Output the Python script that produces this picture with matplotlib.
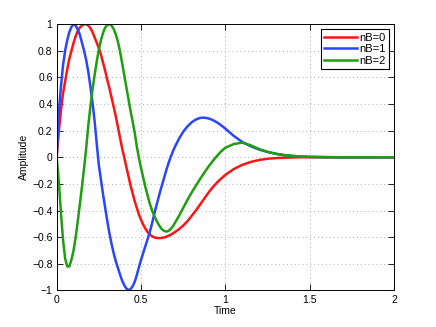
import matplotlib
matplotlib.use('Agg')
import matplotlib.pyplot as plt

# time axis
time = [0, 0.0125, 0.025, 0.0375, 0.05, 0.0625, 0.075, 0.0875, 0.1, 0.1125,
        0.125, 0.1375, 0.15, 0.1625, 0.175, 0.1875, 0.2, 0.2125, 0.225, 0.2375,
        0.25, 0.2625, 0.275, 0.2875, 0.3, 0.3125, 0.325, 0.3375, 0.35, 0.3625,
        0.375, 0.3875, 0.4, 0.4125, 0.425, 0.4375, 0.45, 0.4625, 0.475, 0.4875,
        0.5,
        0.5125, 0.525, 0.5375, 0.55, 0.5625, 0.575, 0.5875, 0.6, 0.6125, 0.625,
        0.6375, 0.65, 0.6625, 0.675, 0.6875, 0.7,
        0.725, 0.75, 0.775, 0.8, 0.825, 0.85, 0.875, 0.9, 0.925, 0.95, 0.975, 1.0,
        1.05, 1.1, 1.15, 1.2, 1.25, 1.3, 1.35, 1.4, 1.45, 1.5,
        1.6, 1.7, 1.8, 1.9, 2.0]

nb0 = [0, 0.19, 0.35, 0.48, 0.57, 0.66, 0.74, 0.80, 0.86, 0.91,
       0.95, 0.975, 0.99, 1.0, 1.0, 0.99, 0.97, 0.94, 0.90, 0.86,
       0.82, 0.77, 0.71, 0.65, 0.58, 0.52, 0.45, 0.38, 0.31, 0.23,
       0.15, 0.07, 0.0, -0.07, -0.14, -0.21, -0.27, -0.33, -0.38, -0.43,
       -0.47,
       -0.505, -0.535, -0.56, -0.578, -0.59, -0.60, -0.605, -0.607, -0.607, -0.605,
       -0.602, -0.597, -0.59, -0.582, -0.573, -0.563,
       -0.54, -0.513, -0.48, -0.44, -0.40, -0.355, -0.31, -0.265, -0.225, -0.19, -0.16, -0.132,
       -0.088, -0.057, -0.035, -0.02, -0.011, -0.006, -0.003, -0.001, 0, 0,
       0, 0, 0, 0, 0]

nb1 = [0, 0.33, 0.53, 0.69, 0.80, 0.88, 0.94, 0.98, 1.0, 0.99,
       0.96, 0.92, 0.86, 0.80, 0.73, 0.64, 0.53, 0.41, 0.27, 0.10,
       -0.06, -0.17, -0.28, -0.38, -0.48, -0.57, -0.65, -0.72, -0.78, -0.83,
       -0.88, -0.925, -0.96, -0.985, -0.998, -0.99, -0.97, -0.935, -0.885, -0.825,
       -0.77,
       -0.72, -0.67, -0.62, -0.57, -0.51, -0.445, -0.38, -0.32, -0.26, -0.205,
       -0.15, -0.095, -0.045, 0.0, 0.04, 0.077,
       0.14, 0.192, 0.232, 0.263, 0.284, 0.296, 0.298, 0.292, 0.28, 0.262, 0.24, 0.215,
       0.16, 0.115, 0.083, 0.058, 0.04, 0.026, 0.016, 0.01, 0.005, 0.003,
       0.001, 0, 0, 0, 0]

nb2 = [0, -0.18, -0.41, -0.62, -0.76, -0.82, -0.82, -0.77, -0.70, -0.60,
       -0.48, -0.35, -0.22, -0.08, 0.07, 0.24, 0.38, 0.51, 0.62, 0.72,
       0.81, 0.88, 0.935, 0.975, 0.995, 1.0, 0.99, 0.965, 0.925, 0.87,
       0.80, 0.71, 0.62, 0.53, 0.44, 0.35, 0.27, 0.185, 0.08, -0.005,
       -0.08,
       -0.15, -0.22, -0.28, -0.34, -0.39, -0.43, -0.465, -0.497, -0.522, -0.542,
       -0.554, -0.558, -0.553, -0.54, -0.52, -0.495,
       -0.44, -0.38, -0.32, -0.265, -0.213, -0.163, -0.115, -0.07, -0.028, 0.01, 0.045, 0.072,
       0.1, 0.11, 0.09, 0.062, 0.041, 0.026, 0.016, 0.01, 0.005, 0.003,
       0.001, 0, 0, 0, 0]

labels = ['nB=0', 'nB=1', 'nB=2']
colors = ['#ff1414', '#2a45ff', '#1f9e10']

xticks = [0, 0.5, 1, 1.5, 2]
xticklabels = ['0', '0.5', '1', '1.5', '2']
yticks = [-1, -0.8, -0.6, -0.4, -0.2, 0, 0.2, 0.4, 0.6, 0.8, 1]
yticklabels = ['\u22121', '\u22120.8', '\u22120.6', '\u22120.4', '\u22120.2', '0',
               '0.2', '0.4', '0.6', '0.8', '1']

plt.rcParams['font.family'] = ['Liberation Sans', 'DejaVu Sans']

fig = plt.figure(figsize=(4.36, 3.27), dpi=100)
ax = fig.add_axes([0.130, 0.112, 0.774, 0.814])

for series, lab, col in zip([nb0, nb1, nb2], labels, colors):
    ax.plot(time, series, color=col, lw=1.8, label=lab)

ax.set_xlim(0, 2)
ax.set_ylim(-1, 1)
ax.set_xticks(xticks)
ax.set_xticklabels(xticklabels)
ax.set_yticks(yticks)
ax.set_yticklabels(yticklabels)
ax.tick_params(direction='in', length=4, width=0.6, labelsize=7.5,
               top=True, right=True, pad=3)
ax.grid(True, linestyle=(0, (1, 3)), color='#b0b0b0', lw=0.7)
for s in ax.spines.values():
    s.set_linewidth(0.7)

ax.set_xlabel('Time', fontsize=7.5, labelpad=1)
ax.set_ylabel('Amplitude', fontsize=7.5, labelpad=2)

leg = ax.legend(loc='upper right', fontsize=8, handlelength=3.0,
                handletextpad=0.2, labelspacing=0.15, borderpad=0.3,
                borderaxespad=0.45, fancybox=False, framealpha=1)
leg.get_frame().set_edgecolor('black')
leg.get_frame().set_linewidth(0.8)

fig.savefig('out.png', dpi=100)
